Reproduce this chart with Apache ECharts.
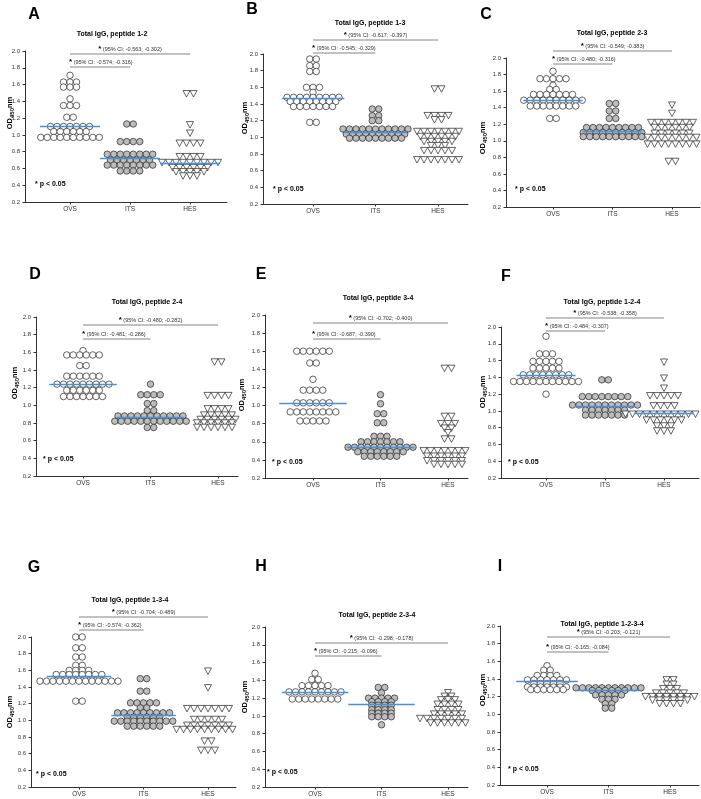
<!DOCTYPE html>
<html><head><meta charset="utf-8">
<script src="https://cdn.jsdelivr.net/npm/echarts@6/dist/echarts.min.js"></script>
<style>html,body{margin:0;padding:0;background:#fff}#c{width:701px;height:799px}</style>
</head><body><div id="c"></div>
<script>
// ---------- DATA (rows of [OD450nm value, number of subjects at that value]) ----------
const categories = ['OVS', 'ITS', 'HES'];
const yMin = 0.2, yMax = 2.0, yStep = 0.2;

const A_OVS = [[1.71,1],[1.63,3],[1.57,3],[1.43,1],[1.35,3],[1.21,2],[1.10,7],[1.04,6],[0.97,10]];
const A_ITS = [[1.13,2],[0.92,4],[0.77,8],[0.70,7],[0.64,8],[0.57,4]];
const A_HES = [[1.49,2],[1.12,1],[1.02,1],[0.90,4],[0.74,4],[0.67,9],[0.61,6],[0.56,5],[0.51,3]];
const medA = [1.10, 0.72, 0.66];

const B_OVS = [[1.94,2],[1.86,2],[1.79,2],[1.60,3],[1.54,1],[1.48,9],[1.43,8],[1.37,7],[1.18,2]];
const B_ITS = [[1.34,2],[1.26,2],[1.20,2],[1.10,11],[1.04,10],[0.99,9]];
const B_HES = [[1.58,2],[1.26,4],[1.21,2],[1.07,7],[1.01,6],[0.95,5],[0.90,3],[0.84,5],[0.73,7]];
const medB = [1.47, 1.06, 0.98];

const C_OVS = [[1.84,1],[1.75,5],[1.67,1],[1.62,2],[1.56,7],[1.49,10],[1.42,8],[1.27,2]];
const C_ITS = [[1.45,2],[1.36,2],[1.27,2],[1.16,9],[1.10,10],[1.05,10]];
const C_HES = [[1.43,1],[1.33,1],[1.22,7],[1.16,6],[1.09,6],[1.04,8],[0.96,8],[0.75,2]];
const medC = [1.49, 1.11, 1.05];

const D_OVS = [[1.62,1],[1.57,6],[1.45,2],[1.33,6],[1.24,9],[1.17,6],[1.10,7]];
const D_ITS = [[1.24,1],[1.12,4],[1.02,2],[0.94,2],[0.88,11],[0.82,12],[0.75,2]];
const D_HES = [[1.49,2],[1.11,4],[0.96,4],[0.89,5],[0.84,6],[0.80,7],[0.75,7]];
const medD = [1.24, 0.87, 0.84];

const E_OVS = [[1.60,6],[1.47,2],[1.29,1],[1.17,4],[1.03,6],[0.93,8],[0.83,5]];
const E_ITS = [[1.12,1],[1.02,1],[0.91,2],[0.81,2],[0.66,3],[0.60,7],[0.54,11],[0.49,8],[0.44,6]];
const E_HES = [[1.41,2],[0.88,2],[0.80,3],[0.75,2],[0.70,1],[0.63,2],[0.50,8],[0.44,7],[0.39,7],[0.35,5]];
const medE = [1.02, 0.54, 0.50];

const F_OVS = [[1.89,1],[1.68,3],[1.59,5],[1.51,5],[1.43,8],[1.35,11],[1.20,1]];
const F_ITS = [[1.37,2],[1.17,8],[1.07,11],[1.01,7],[0.95,7]];
const F_HES = [[1.58,1],[1.39,1],[1.27,1],[1.18,5],[1.06,4],[0.96,12],[0.89,6],[0.82,3],[0.76,3]];
const medF = [1.42, 1.06, 0.97];

const G_OVS = [[2.00,2],[1.87,2],[1.76,2],[1.66,2],[1.60,4],[1.55,8],[1.47,13],[1.23,2]];
const G_ITS = [[1.50,2],[1.35,2],[1.21,5],[1.15,2],[1.09,9],[1.04,6],[0.99,10],[0.93,6]];
const G_HES = [[1.59,1],[1.39,1],[1.14,7],[1.01,5],[0.94,7],[0.89,10],[0.75,2],[0.64,3]];
const medG = [1.53, 1.06, 0.93];

const H_OVS = [[1.48,1],[1.41,2],[1.34,5],[1.27,9],[1.19,8]];
const H_ITS = [[1.32,2],[1.26,1],[1.20,5],[1.16,4],[1.12,4],[1.07,4],[1.03,4],[0.99,4],[0.90,1]];
const H_HES = [[1.26,1],[1.22,2],[1.18,3],[1.13,4],[1.07,4],[1.02,5],[0.97,9],[0.92,6]];
const medH = [1.27, 1.13, 1.02];

const I_OVS = [[1.55,1],[1.50,2],[1.44,4],[1.39,7],[1.35,5],[1.31,7],[1.28,6]];
const I_ITS = [[1.30,11],[1.27,6],[1.22,5],[1.17,3],[1.12,2],[1.07,2]];
const I_HES = [[1.39,2],[1.34,2],[1.29,3],[1.24,5],[1.20,8],[1.16,6],[1.12,4]];
const medI = [1.37, 1.27, 1.19];

const panelLetters = ['A','B','C','D','E','F','G','H','I'];
const panelTitles = ['Total IgG, peptide 1-2','Total IgG, peptide 1-3','Total IgG, peptide 2-3',
  'Total IgG, peptide 2-4','Total IgG, peptide 3-4','Total IgG, peptide 1-2-4',
  'Total IgG, peptide 1-3-4','Total IgG, peptide 2-3-4','Total IgG, peptide 1-2-3-4'];
const ciOVSvsHES = ['-0.563; -0.302','-0.617; -0.397','-0.549; -0.383','-0.480; -0.282','-0.702; -0.400',
  '-0.538; -0.358','-0.704; -0.489','-0.298; -0.178','-0.203; -0.121'];
const ciOVSvsITS = ['-0.574; -0.316','-0.545; -0.329','-0.480; -0.316','-0.481; -0.286','-0.687; -0.390',
  '-0.484; -0.307','-0.574; -0.362','-0.215; -0.096','-0.165; -0.084'];
const groupsByPanel = [[A_OVS,A_ITS,A_HES],[B_OVS,B_ITS,B_HES],[C_OVS,C_ITS,C_HES],
  [D_OVS,D_ITS,D_HES],[E_OVS,E_ITS,E_HES],[F_OVS,F_ITS,F_HES],
  [G_OVS,G_ITS,G_HES],[H_OVS,H_ITS,H_HES],[I_OVS,I_ITS,I_HES]];
const mediansByPanel = [medA, medB, medC, medD, medE, medF, medG, medH, medI];

// ---------- LAYOUT (pixels) ----------
const layout = [
 {left:25, top:51, bottom:202, ovs:70, hes:190, right:227, letter:[34,15], title:[112,34], sig:[54,67], p:[35,184], yname:[10,113]},
 {left:263, top:54, bottom:204, ovs:313, hes:438, right:468, letter:[252,10], title:[370,23], sig:[40,53], p:[273,189], yname:[245,118]},
 {left:506, top:58, bottom:207, ovs:553, hes:672, right:700, letter:[486,15], title:[612,33], sig:[51,64], p:[515,189], yname:[483,138]},
 {left:36, top:317, bottom:476, ovs:83, hes:218, right:238, letter:[35,275], title:[147,302], sig:[325,339], p:[43,459], yname:[15,383]},
 {left:265, top:315, bottom:478, ovs:313, hes:448, right:468, letter:[261,275], title:[378,298], sig:[323,339], p:[272,462], yname:[242,395]},
 {left:501, top:327, bottom:478, ovs:546, hes:664, right:699, letter:[506,277], title:[602,302], sig:[318,331], p:[508,462], yname:[483,392]},
 {left:31, top:637, bottom:787, ovs:79, hes:208, right:236, letter:[34,568], title:[130,600], sig:[617,630], p:[36,774], yname:[10,712]},
 {left:265, top:627, bottom:787, ovs:315, hes:448, right:468, letter:[261,567], title:[377,615], sig:[643,656], p:[267,772], yname:[245,697]},
 {left:500, top:626, bottom:785, ovs:547, hes:670, right:699, letter:[500,567], title:[602,624], sig:[637,652], p:[508,769], yname:[483,690]}
];

const FONT = '"Liberation Sans", Arial, sans-serif';
const AX = '#333';
const BLUE = '#4a90d9';

const grid = [], xAxis = [], yAxis = [], series = [];
layout.forEach((L, i) => {
  const s = (L.hes - L.ovs) / 2; // px per category unit
  const xmin = 1 - (L.ovs - L.left) / s;
  const xmax = 1 + (L.right - L.ovs) / s;
  grid.push({left: L.left, top: L.top, width: L.right - L.left, height: L.bottom - L.top});
  xAxis.push({
    gridIndex: i, type: 'value', min: xmin, max: xmax,
    axisLine: {show: true, onZero: false, lineStyle: {color: AX, width: 1}},
    axisTick: {show: true, customValues: [1, 2, 3], length: 2.5, lineStyle: {color: AX}},
    axisLabel: {customValues: [1, 2, 3], formatter: v => categories[Math.round(v) - 1] || '',
      fontSize: 6.5, color: AX, margin: 4, fontFamily: FONT},
    splitLine: {show: false}
  });
  yAxis.push({
    gridIndex: i, type: 'value', min: yMin, max: yMax, interval: yStep,
    axisLine: {show: true, onZero: false, lineStyle: {color: AX, width: 1}},
    axisTick: {show: true, length: 2.5, lineStyle: {color: AX}},
    axisLabel: {formatter: v => v.toFixed(1), fontSize: 6, color: AX, margin: 5, fontFamily: FONT},
    splitLine: {show: false}
  });
  groupsByPanel[i].forEach((rows, g) => {
    const c = g + 1;
    const tri = g === 2;
    const step = tri ? 7 : 6.5;
    const pts = [];
    rows.forEach(([v, n]) => {
      for (let k = 0; k < n; k++) pts.push([c + (k - (n - 1) / 2) * step / s, v]);
    });
    const med = mediansByPanel[i][g];
    series.push({
      type: 'scatter', xAxisIndex: i, yAxisIndex: i, data: pts, silent: true,
      symbol: tri ? 'triangle' : 'circle', symbolRotate: tri ? 180 : 0,
      symbolSize: tri ? [7, 6.5] : 6.5,
      itemStyle: {color: g === 1 ? '#bdbdbd' : '#ffffff', borderColor: '#222', borderWidth: 0.7, opacity: 1},
      markLine: {silent: true, symbol: 'none', label: {show: false}, animation: false,
        lineStyle: {color: BLUE, width: 1.4, type: 'solid'},
        data: [[{coord: [c - 0.5, med]}, {coord: [c + 0.5, med]}]]}
    });
  });
});

const chart = echarts.init(document.getElementById('c'), null, {renderer: 'canvas'});
chart.setOption({animation: false, backgroundColor: '#fff', grid, xAxis, yAxis, series});

const gfx = [];
layout.forEach((L, i) => {
  const px = c => chart.convertToPixel({gridIndex: i}, [c, 1])[0];
  const xO = px(1), xI = px(2), xH = px(3);
  gfx.push({type: 'text', x: L.letter[0], y: L.letter[1], style: {text: panelLetters[i],
    font: 'bold 16px ' + FONT, fill: '#000', align: 'center', verticalAlign: 'middle'}});
  gfx.push({type: 'text', x: L.title[0], y: L.title[1], style: {text: panelTitles[i],
    font: 'bold 7px ' + FONT, fill: '#000', align: 'center', verticalAlign: 'middle'}});
  gfx.push({type: 'line', shape: {x1: xO, y1: L.sig[0], x2: xH, y2: L.sig[0]}, style: {stroke: '#666', lineWidth: 0.8}});
  gfx.push({type: 'line', shape: {x1: xO, y1: L.sig[1], x2: xI, y2: L.sig[1]}, style: {stroke: '#666', lineWidth: 0.8}});
  const rich = {s: {fontSize: 8, fontWeight: 'bold', fontFamily: FONT, fill: '#000'},
                t: {fontSize: 5.5, fontFamily: FONT, fill: '#333'}};
  gfx.push({type: 'text', x: xI, y: L.sig[0] - 1, style: {text: '{s|*}{t| (95% CI: ' + ciOVSvsHES[i] + ')}',
    rich, align: 'center', verticalAlign: 'bottom'}});
  gfx.push({type: 'text', x: xO - 1, y: L.sig[1] - 1, style: {text: '{s|*}{t| (95% CI: ' + ciOVSvsITS[i] + ')}',
    rich, align: 'left', verticalAlign: 'bottom'}});
  gfx.push({type: 'text', x: L.p[0], y: L.p[1], style: {text: '* p < 0.05',
    font: 'bold 7px ' + FONT, fill: '#000', align: 'left', verticalAlign: 'middle'}});
  gfx.push({type: 'text', x: L.yname[0], y: L.yname[1], rotation: Math.PI / 2,
    style: {text: '{a|OD}{b|450}{a|nm}', align: 'center', verticalAlign: 'middle',
      rich: {a: {fontSize: 7.5, fontWeight: 'bold', fontFamily: FONT, fill: '#000'},
             b: {fontSize: 6, fontWeight: 'bold', fontFamily: FONT, fill: '#000', padding: [4, 0, 0, 0]}}}});
});
chart.setOption({graphic: {elements: gfx}});
</script></body></html>
